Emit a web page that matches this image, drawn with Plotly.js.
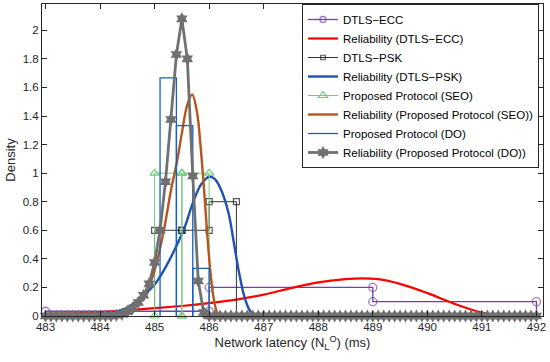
<!DOCTYPE html>
<html><head><meta charset="utf-8">
<script src="https://cdn.plot.ly/plotly-3.0.1.min.js"></script>
<style>html,body{margin:0;padding:0;background:#fff}#chart{width:550px;height:362px}</style>
</head><body><div id="chart"></div>
<script>
// ---- Histogram data (probability density) ----
const eccEdges = [483, 486, 489, 492];
const eccDensity = [0.0333, 0.2, 0.1];
const pskEdges = [485, 485.5, 486, 486.5];
const pskDensity = [0.6, 0.6, 0.8];
const seoEdges = [485, 485.5, 486];
const seoDensity = [1, 1];
const doEdges = [485.1, 485.4, 485.7, 486.0];
const doDensity = [1.667, 1.333, 0.333];

// ---- Reliability (fitted density) curves ----
const eccRelX = [483, 483.5, 484, 484.5, 485, 485.5, 486, 486.5, 487, 487.5, 488, 488.5, 488.8, 489.1, 489.5, 490, 490.5, 490.8, 491.1, 491.4, 491.7, 492];
const eccRelY = [0.015, 0.02, 0.028, 0.04, 0.055, 0.07, 0.09, 0.115, 0.15, 0.195, 0.235, 0.258, 0.264, 0.258, 0.225, 0.16, 0.085, 0.045, 0.015, 0.002, 0, 0];

const pskRelX = [483, 483.5, 484, 484.3, 484.5, 484.75, 485, 485.2, 485.4, 485.55, 485.7, 485.85, 486.0, 486.1, 486.2, 486.35, 486.45, 486.55, 486.65, 486.75, 486.85, 487, 488, 490, 492];
const pskRelY = [0.005, 0.008, 0.015, 0.03, 0.06, 0.13, 0.22, 0.34, 0.49, 0.62, 0.79, 0.92, 0.975, 0.96, 0.9, 0.73, 0.52, 0.3, 0.13, 0.035, 0.005, 0, 0, 0, 0];

const seoRelX = [483, 484, 484.3, 484.5, 484.7, 484.8, 484.95, 485.06, 485.18, 485.3, 485.41, 485.5, 485.6, 485.69, 485.78, 485.84, 485.9, 485.96, 486.02, 486.08, 486.14, 486.2, 487, 492];
const seoRelY = [0, 0.005, 0.015, 0.04, 0.09, 0.15, 0.26, 0.41, 0.62, 0.88, 1.08, 1.28, 1.48, 1.55, 1.42, 1.2, 0.92, 0.6, 0.32, 0.13, 0.03, 0, 0, 0];

const doRelX = [483.0, 483.1, 483.2, 483.3, 483.4, 483.5, 483.6, 483.7, 483.8, 483.9,
                484.0, 484.1, 484.2, 484.3, 484.4, 484.5, 484.6, 484.7, 484.8, 484.9,
                485.0, 485.1, 485.2, 485.3, 485.4, 485.5, 485.6, 485.7, 485.8, 485.9,
                486.0, 486.1, 486.2, 486.3, 486.4, 486.5, 486.6, 486.7, 486.8, 486.9,
                487.0, 487.1, 487.2, 487.3, 487.4, 487.5, 487.6, 487.7, 487.8, 487.9,
                488.0, 488.1, 488.2, 488.3, 488.4, 488.5, 488.6, 488.7, 488.8, 488.9,
                489.0, 489.1, 489.2, 489.3, 489.4, 489.5, 489.6, 489.7, 489.8, 489.9,
                490.0, 490.1, 490.2, 490.3, 490.4, 490.5, 490.6, 490.7, 490.8, 490.9,
                491.0, 491.1, 491.2, 491.3, 491.4, 491.5, 491.6, 491.7, 491.8, 491.9,
                492.0];
const doRelY = [0, 0, 0, 0, 0, 0, 0, 0, 0, 0,
                0, 0, 0, 0.005, 0.012, 0.03, 0.055, 0.095, 0.145, 0.225,
                0.375, 0.6, 0.94, 1.375, 1.83, 2.08, 1.8, 0.98, 0.245, 0.025,
                0, 0, 0, 0, 0, 0, 0, 0, 0, 0,
                0, 0, 0, 0, 0, 0, 0, 0, 0, 0,
                0, 0, 0, 0, 0, 0, 0, 0, 0, 0,
                0, 0, 0, 0, 0, 0, 0, 0, 0, 0,
                0, 0, 0, 0, 0, 0, 0, 0, 0, 0,
                0, 0, 0, 0, 0, 0, 0, 0, 0, 0,
                0];

// ---- Axis ticks ----
const xTicks = [483, 484, 485, 486, 487, 488, 489, 490, 491, 492];
const yTicks = [0, 0.2, 0.4, 0.6, 0.8, 1, 1.2, 1.4, 1.6, 1.8, 2];
const yTickText = ['0', '0.2', '0.4', '0.6', '0.8', '1', '1.2', '1.4', '1.6', '1.8', '2'];

// stairs outline of a histogram
function stairs(edges, vals) {
  const x = [], y = [];
  for (let i = 0; i < edges.length; i++) {
    x.push(edges[i], edges[i]);
    y.push(i === 0 ? 0 : vals[i - 1], i === vals.length ? 0 : vals[i]);
  }
  return {x, y};
}
// separate bar outlines
function bars(edges, vals) {
  const x = [], y = [];
  for (let i = 0; i < vals.length; i++) {
    x.push(edges[i], edges[i], edges[i + 1], edges[i + 1], null);
    y.push(0, vals[i], vals[i], 0, null);
  }
  return {x, y};
}

const ecc = stairs(eccEdges, eccDensity);
const psk = stairs(pskEdges, pskDensity);
const seo = bars(seoEdges, seoDensity);
const dob = bars(doEdges, doDensity);

const traces = [
  {x: ecc.x, y: ecc.y, name: 'DTLS\u2212ECC', mode: 'lines+markers', cliponaxis: false,
   line: {color: '#7040B0', width: 1.3},
   marker: {symbol: 'circle-open', size: ecc.y.map(v => v === 0 ? 0 : 8), color: '#7040B0', line: {width: 1.3, color: '#7040B0'}}},
  {x: eccRelX, y: eccRelY, name: 'Reliability (DTLS\u2212ECC)', mode: 'lines', cliponaxis: false,
   line: {color: '#FF0000', width: 2.2, shape: 'spline', smoothing: 1}},
  {x: psk.x, y: psk.y, name: 'DTLS\u2212PSK', mode: 'lines+markers', cliponaxis: false,
   line: {color: '#333333', width: 1},
   marker: {symbol: 'square-open', size: psk.y.map(v => v === 0 ? 0 : 6), color: '#111111', line: {width: 1.2, color: '#111111'}}},
  {x: pskRelX, y: pskRelY, name: 'Reliability (DTLS\u2212PSK)', mode: 'lines', cliponaxis: false,
   line: {color: '#2050B0', width: 2.4, shape: 'spline', smoothing: 1}},
  {x: seo.x, y: seo.y, name: 'Proposed Protocol (SEO)', mode: 'lines+markers', cliponaxis: false,
   line: {color: '#72C97E', width: 1},
   marker: {symbol: 'triangle-up-open', size: 8, color: '#72C97E', line: {width: 1.2, color: '#72C97E'}}},
  {x: seoRelX, y: seoRelY, name: 'Reliability (Proposed Protocol (SEO))', mode: 'lines', cliponaxis: false,
   line: {color: '#B4561E', width: 2.4, shape: 'spline', smoothing: 1}},
  {x: dob.x, y: dob.y, name: 'Proposed Protocol (DO)', mode: 'lines', cliponaxis: false,
   line: {color: '#1560C0', width: 1.3}},
  {x: doRelX, y: doRelY, name: 'Reliability (Proposed Protocol (DO))', mode: 'lines+markers', cliponaxis: false,
   line: {color: '#707070', width: 2.8},
   marker: {symbol: 'hexagram', size: 10, color: '#707070'}}
];

const axisCommon = {
  showline: true, linecolor: '#262626', linewidth: 1, mirror: 'ticks',
  ticks: 'inside', ticklen: 5, tickcolor: '#262626', tickwidth: 1,
  showgrid: false, zeroline: false,
  tickfont: {family: 'Liberation Sans, Arial, sans-serif', size: 11.5, color: '#262626'}
};

const layout = {
  width: 550, height: 362,
  margin: {l: 42, r: 7, t: 4, b: 46},
  paper_bgcolor: '#ffffff', plot_bgcolor: '#ffffff',
  font: {family: 'Liberation Sans, Arial, sans-serif', size: 11, color: '#262626'},
  xaxis: Object.assign({}, axisCommon, {
    range: [482.936, 492.12], tickvals: xTicks, ticktext: xTicks.map(String),
    title: {text: 'Network latency (N<sub>L</sub><sup>O</sup>) (ms)', font: {size: 13, color: '#262626'}, standoff: 6}
  }),
  yaxis: Object.assign({}, axisCommon, {
    range: [0, 2.184], tickvals: yTicks, ticktext: yTickText,
    title: {text: 'Density', font: {size: 13, color: '#262626'}, standoff: 4}
  }),
  showlegend: true,
  legend: {x: 0.992, xanchor: 'right', y: 1, yanchor: 'top', bgcolor: '#ffffff',
           bordercolor: '#262626', borderwidth: 1, font: {size: 11.5, color: '#000000'},
           itemwidth: 30, tracegroupgap: 0}
};

Plotly.newPlot('chart', traces, layout, {staticPlot: true, displayModeBar: false});
</script>
</body></html>
